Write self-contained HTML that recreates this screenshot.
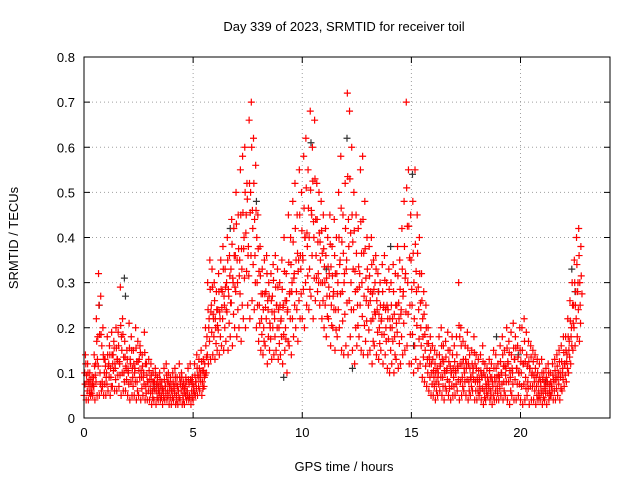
<!DOCTYPE html>
<html><head><meta charset="utf-8"><style>
html,body{margin:0;padding:0;background:#fff;}
svg text{font-family:"Liberation Sans",sans-serif;font-size:13px;fill:#000;}
</style></head><body>
<svg id="chart" width="640" height="480" xmlns="http://www.w3.org/2000/svg">
<rect width="640" height="480" fill="#fff"/>
<text x="344" y="31" text-anchor="middle">Day 339 of 2023, SRMTID for receiver toil</text>
<text x="344" y="471" text-anchor="middle">GPS time / hours</text>
<text transform="translate(18,238) rotate(-90)" text-anchor="middle">SRMTID / TECUs</text>
<g id="grid"></g><g id="ticks"></g><g id="marks"></g>
<rect x="84" y="57" width="526" height="361" fill="none" stroke="#000" stroke-width="1"/>
</svg>
<script>
const xTicks=[0,5,10,15,20];
const yTicks=[0,0.1,0.2,0.3,0.4,0.5,0.6,0.7,0.8];
const yTickLabels=["0","0.1","0.2","0.3","0.4","0.5","0.6","0.7","0.8"];
const lowVals=[.05,.04,.04,.05,.05,.04,.05,.05,.06,.05,.05,.06,.05,.07,.06,.06,.07,.05,.06,.06,.05,.04,.05,.05,.04,.05,.04,.05,.04,.04,.04,.03,.04,.03,.04,.04,.03,.04,.04,.03,.03,.04,.03,.03,.04,.03,.03,.04,.04,.03,.04,.05,.05,.06,.05,.07,.10,.12,.13,.14,.13,.15,.14,.16,.15,.17,.15,.18,.16,.20,.18,.20,.17,.22,.20,.25,.22,.26,.24,.20,.17,.15,.14,.16,.12,.15,.13,.14,.15,.13,.14,.12,.15,.10,.16,.14,.18,.20,.17,.22,.22,.20,.25,.24,.27,.22,.26,.28,.25,.22,.20,.18,.22,.16,.20,.15,.18,.20,.15,.14,.16,.14,.18,.15,.12,.16,.18,.15,.14,.17,.14,.15,.12,.16,.14,.13,.15,.12,.14,.11,.10,.12,.10,.13,.11,.12,.14,.15,.16,.12,.12,.10,.13,.11,.12,.09,.08,.07,.06,.05,.05,.04,.05,.06,.05,.04,.06,.05,.04,.05,.05,.06,.04,.05,.06,.05,.04,.05,.06,.04,.04,.05,.04,.03,.04,.05,.04,.03,.04,.04,.04,.05,.04,.05,.04,.03,.05,.04,.04,.05,.04,.03,.04,.05,.03,.04,.04,.03,.04,.04,.03,.04,.03,.04,.05,.04,.04,.05,.04,.06,.07,.08,.10,.12,.15,.16,.18,.17];
const midVals=[.10,.08,.07,.06,.09,.12,.18,.10,.08,.10,.10,.12,.09,.14,.11,.13,.12,.15,.10,.11,.10,.12,.09,.11,.08,.13,.09,.10,.07,.08,.07,.06,.08,.06,.07,.05,.06,.07,.06,.06,.06,.07,.05,.06,.08,.05,.07,.06,.05,.06,.07,.08,.09,.10,.08,.12,.18,.22,.25,.22,.20,.24,.22,.28,.25,.30,.27,.33,.30,.36,.30,.35,.33,.40,.45,.38,.50,.42,.36,.30,.25,.22,.20,.28,.24,.20,.27,.22,.25,.20,.22,.25,.20,.24,.28,.30,.32,.28,.35,.33,.35,.40,.38,.33,.45,.40,.36,.32,.35,.30,.30,.27,.32,.25,.28,.24,.30,.35,.28,.32,.35,.38,.30,.33,.28,.25,.32,.30,.27,.26,.25,.28,.22,.30,.24,.20,.22,.25,.20,.24,.20,.22,.18,.25,.22,.24,.28,.32,.30,.25,.25,.22,.28,.24,.20,.18,.15,.13,.12,.10,.09,.08,.10,.12,.09,.10,.11,.08,.10,.09,.10,.11,.12,.09,.10,.12,.08,.09,.11,.08,.08,.07,.09,.06,.07,.08,.06,.07,.08,.07,.09,.10,.08,.11,.12,.09,.10,.13,.11,.10,.10,.12,.09,.08,.11,.10,.08,.07,.06,.07,.06,.07,.08,.06,.07,.08,.09,.10,.09,.11,.12,.14,.17,.20,.25,.28,.30,.25];
const highVals=[.14,.12,.10,.09,.14,.22,.32,.27,.20,.13,.18,.16,.19,.17,.20,.19,.29,.22,.17,.15,.21,.18,.15,.20,.17,.16,.14,.19,.12,.13,.12,.10,.11,.09,.10,.08,.11,.12,.10,.09,.10,.11,.09,.12,.10,.08,.09,.11,.12,.09,.12,.14,.13,.15,.13,.20,.30,.35,.33,.30,.28,.32,.35,.38,.33,.40,.36,.44,.42,.50,.45,.55,.58,.60,.52,.66,.70,.62,.56,.45,.38,.33,.35,.36,.30,.32,.34,.36,.33,.30,.35,.40,.32,.45,.40,.48,.52,.45,.55,.50,.58,.62,.55,.68,.60,.66,.52,.50,.48,.45,.42,.40,.45,.38,.44,.40,.50,.58,.45,.52,.72,.68,.60,.50,.45,.42,.55,.58,.48,.40,.38,.40,.35,.36,.32,.30,.34,.36,.30,.33,.30,.34,.32,.38,.35,.42,.48,.70,.55,.45,.48,.55,.45,.40,.32,.28,.25,.20,.18,.16,.15,.14,.18,.20,.16,.17,.19,.15,.18,.16,.18,.30,.20,.17,.16,.19,.14,.15,.18,.14,.13,.14,.16,.12,.11,.13,.12,.15,.14,.12,.16,.18,.15,.20,.17,.19,.21,.18,.16,.20,.20,.22,.19,.17,.16,.15,.14,.13,.12,.13,.10,.11,.12,.10,.12,.13,.14,.15,.16,.18,.18,.22,.26,.30,.35,.40,.42,.38];
const blackTimes=[1.85,1.9,0.7,9.15,10.4,11.1,12.05,12.3,13.5,14.05,15.05,15.1,18.9,19.9,21.15,22.35,22.5,6.7,7.9,3.2];
const blackVals=[.31,.27,.25,.09,.61,.33,.62,.11,.28,.38,.54,.16,.18,.14,.08,.33,.28,.42,.48,.07];
const NS="http://www.w3.org/2000/svg";
const X0=84,X1=610,Y0=418,Y1=57;
const xs=v=>X0+v*(X1-X0)/24.1;
const ys=v=>Y0-v*(Y0-Y1)/0.8;
const grid=document.getElementById('grid'),ticks=document.getElementById('ticks'),marks=document.getElementById('marks');
function mk(tag,attrs,parent){const e=document.createElementNS(NS,tag);for(const k in attrs)e.setAttribute(k,attrs[k]);parent.appendChild(e);return e;}
xTicks.forEach(t=>{const x=xs(t);
 if(t>0){const g=mk('line',{x1:x,x2:x,y1:Y0,y2:Y1,stroke:'#a0a0a0','stroke-dasharray':'1,3'},grid);
 
 }
 mk('line',{x1:x,x2:x,y1:Y0,y2:Y0-6,stroke:'#000'},ticks);mk('line',{x1:x,x2:x,y1:Y1,y2:Y1+6,stroke:'#000'},ticks);
 const l=mk('text',{x:x,y:Y0+19,'text-anchor':'middle'},ticks);l.textContent=String(t);
 
 });
yTicks.forEach((t,i)=>{const y=ys(t);
 if(i>0&&i<yTicks.length-1){const g=mk('line',{x1:X0,x2:X1,y1:y,y2:y,stroke:'#a0a0a0','stroke-dasharray':'1,3'},grid);
 
 }
 mk('line',{x1:X0,x2:X0+6,y1:y,y2:y,stroke:'#000'},ticks);mk('line',{x1:X1,x2:X1-6,y1:y,y2:y,stroke:'#000'},ticks);
 const l=mk('text',{x:X0-9,y:y+5,'text-anchor':'end'},ticks);l.textContent=yTickLabels[i];
 
 });
function plus(t,v,col,name){const x=xs(t),y=ys(v);
 const p=mk('path',{d:`M${x-3.5},${y}H${x+3.5}M${x},${y-3.5}V${y+3.5}`,stroke:col,'stroke-width':1.2,fill:'none'},marks);
 
 }
blackTimes.forEach((t,i)=>plus(t,blackVals[i],'#333','black-point'));
const series=[lowVals,midVals,highVals];
series.forEach((arr,s)=>arr.forEach((v,i)=>{const t=i*0.1+s*0.033;
 plus(t,v,'#f00','red-point');
 const a=s===0?midVals[i]:(s===1?highVals[i]:lowVals[i]);
 plus(t+0.05,(v+a)/2,'#f00','red-point');}));
</script>
</body></html>
